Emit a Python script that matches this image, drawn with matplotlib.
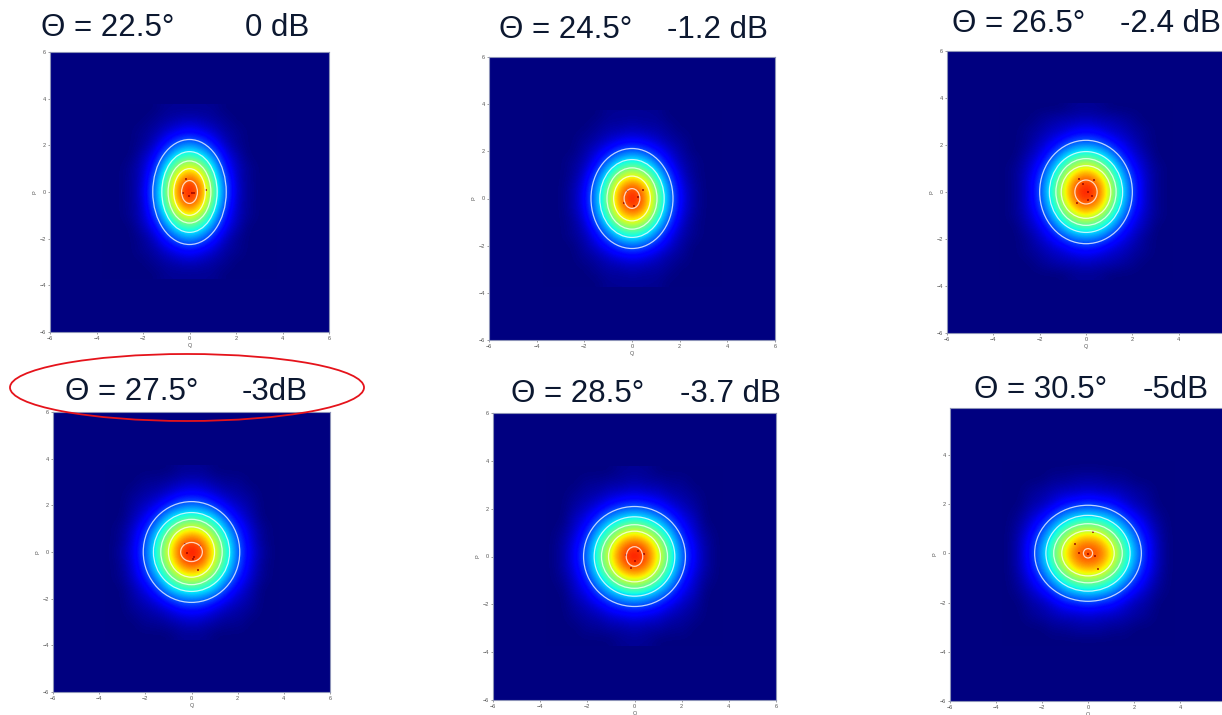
import matplotlib
matplotlib.use("Agg")
import matplotlib.pyplot as plt
import numpy as np
from matplotlib.colors import PowerNorm
from matplotlib.patches import Ellipse
from matplotlib.transforms import IdentityTransform

W, H = 1222, 715
plt.rcParams['font.family'] = ['Liberation Sans', 'DejaVu Sans']

# Density, 0-100 on the jet scale, cells 0.5 wide.
# Rows run P = 3.5 ... -3.5, columns Q = -3.5 ... 3.5
density_a = [
 [0,0,0,0,0,1,1,1,1,1,0,0,0,0,0],
 [0,0,0,0,1,2,3,4,3,2,1,0,0,0,0],
 [0,0,0,1,2,5,8,10,8,5,2,1,0,0,0],
 [0,0,0,1,4,11,19,23,19,11,4,1,0,0,0],
 [0,0,0,3,8,21,35,41,35,22,8,3,0,0,0],
 [0,0,1,4,12,32,54,67,55,33,12,4,1,0,0],
 [0,0,1,4,17,41,74,89,75,41,18,4,1,0,0],
 [0,0,1,5,19,45,81,97,82,46,19,5,1,0,0],
 [0,0,1,4,18,42,74,90,74,41,17,4,1,0,0],
 [0,0,1,4,13,32,55,68,54,32,12,4,1,0,0],
 [0,0,0,3,8,21,35,42,36,21,8,3,0,0,0],
 [0,0,0,1,4,11,19,24,19,11,4,1,0,0,0],
 [0,0,0,1,2,5,8,10,8,5,2,1,0,0,0],
 [0,0,0,0,1,2,3,4,3,2,1,0,0,0,0],
 [0,0,0,0,0,1,1,1,1,1,0,0,0,0,0],
]
density_b = [
 [0,0,0,0,0,1,1,1,1,1,0,0,0,0,0],
 [0,0,0,0,1,2,2,3,2,2,1,0,0,0,0],
 [0,0,0,1,2,4,6,7,6,4,2,1,0,0,0],
 [0,0,0,2,5,10,16,19,16,10,5,2,0,0,0],
 [0,0,1,3,9,21,33,38,33,21,9,3,1,0,0],
 [0,0,1,5,16,34,54,63,54,34,16,5,1,0,0],
 [0,0,2,7,22,46,76,88,76,46,22,7,2,0,0],
 [0,0,2,8,24,50,83,97,83,50,24,8,2,0,0],
 [0,0,2,7,22,46,76,88,77,46,22,7,2,0,0],
 [0,0,1,5,16,34,55,64,54,34,16,5,1,0,0],
 [0,0,1,3,9,21,33,38,33,21,9,3,1,0,0],
 [0,0,0,2,5,10,16,19,16,10,5,2,0,0,0],
 [0,0,0,1,2,4,6,7,6,4,2,1,0,0,0],
 [0,0,0,0,1,2,2,3,2,2,1,0,0,0,0],
 [0,0,0,0,0,1,1,1,1,1,0,0,0,0,0],
]
density_c = [
 [0,0,0,0,0,0,1,1,1,0,0,0,0,0,0],
 [0,0,0,1,2,3,3,4,3,3,2,1,0,0,0],
 [0,0,1,2,4,5,8,9,8,5,4,2,1,0,0],
 [0,0,1,4,7,13,19,21,19,13,7,4,1,0,0],
 [0,0,3,6,14,27,37,41,37,27,14,6,3,0,0],
 [0,1,4,10,24,41,58,66,58,41,24,10,4,1,0],
 [0,1,5,14,31,54,79,88,79,54,31,14,5,1,0],
 [0,1,5,15,35,60,87,97,87,60,35,15,5,1,0],
 [0,1,5,14,31,54,79,88,80,54,31,14,5,1,0],
 [0,1,4,10,24,41,58,67,58,41,24,10,4,1,0],
 [0,0,3,6,14,27,37,41,37,27,14,6,3,0,0],
 [0,0,1,4,7,13,19,21,19,13,7,4,1,0,0],
 [0,0,1,2,4,5,8,9,8,5,4,2,1,0,0],
 [0,0,0,1,2,3,3,4,3,3,2,1,0,0,0],
 [0,0,0,0,0,0,1,1,1,0,0,0,0,0,0],
]
density_d = [
 [0,0,0,0,0,0,1,1,1,0,0,0,0,0,0],
 [0,0,0,1,1,2,3,4,3,2,1,1,0,0,0],
 [0,0,1,2,3,5,8,9,8,5,3,2,1,0,0],
 [0,0,2,4,7,13,19,21,19,13,7,4,2,0,0],
 [0,0,3,7,15,29,37,40,37,29,15,7,3,0,0],
 [0,1,5,12,26,42,58,65,58,42,26,12,5,1,0],
 [0,1,6,16,34,56,80,88,80,56,34,16,6,1,0],
 [0,2,7,18,37,62,88,97,88,62,37,18,7,2,0],
 [0,1,6,16,34,56,80,88,81,56,34,16,6,1,0],
 [0,1,5,12,26,42,58,66,58,42,26,12,5,1,0],
 [0,0,3,7,15,29,37,40,37,29,15,7,3,0,0],
 [0,0,2,4,7,13,19,21,19,13,7,4,2,0,0],
 [0,0,1,2,3,5,8,9,8,5,3,2,1,0,0],
 [0,0,0,1,1,2,3,4,3,2,1,1,0,0,0],
 [0,0,0,0,0,0,1,1,1,0,0,0,0,0,0],
]
density_e = [
 [0,0,0,0,0,0,1,1,1,0,0,0,0,0,0],
 [0,0,0,1,1,2,2,3,2,2,1,1,0,0,0],
 [0,0,1,2,3,5,6,7,6,5,3,2,1,0,0],
 [0,0,2,4,7,12,16,18,16,12,7,4,2,0,0],
 [0,0,4,7,16,26,33,37,33,26,16,7,4,0,0],
 [0,1,5,12,27,42,56,63,56,42,27,12,5,1,0],
 [0,2,7,17,37,57,80,87,80,57,37,17,7,2,0],
 [0,2,8,20,40,65,89,97,89,65,40,20,8,2,0],
 [0,2,7,17,37,57,80,87,81,57,37,17,7,2,0],
 [0,1,5,12,27,42,56,63,56,42,27,12,5,1,0],
 [0,0,4,7,16,26,33,37,33,26,16,7,4,0,0],
 [0,0,2,4,7,12,16,18,16,12,7,4,2,0,0],
 [0,0,1,2,3,5,6,7,6,5,3,2,1,0,0],
 [0,0,0,1,1,2,2,3,2,2,1,1,0,0,0],
 [0,0,0,0,0,0,1,1,1,0,0,0,0,0,0],
]
density_f = [
 [0,0,0,0,0,0,0,0,0,0,0,0,0,0,0],
 [0,0,0,0,1,1,2,2,2,1,1,0,0,0,0],
 [0,0,1,2,3,4,4,5,4,4,3,2,1,0,0],
 [0,0,2,3,6,10,12,14,12,10,6,3,2,0,0],
 [0,1,4,8,15,24,29,31,29,24,15,8,4,1,0],
 [0,2,7,15,28,41,52,55,52,41,28,15,7,2,0],
 [0,3,10,22,39,58,75,80,75,58,39,22,10,3,0],
 [0,3,11,26,44,68,86,90,86,68,44,26,11,3,0],
 [0,3,10,22,39,58,75,80,76,58,39,22,10,3,0],
 [0,2,7,15,28,41,52,56,52,41,28,15,7,2,0],
 [0,1,4,8,15,24,29,31,29,24,15,8,4,1,0],
 [0,0,2,3,6,10,12,14,12,10,6,3,2,0,0],
 [0,0,1,2,3,4,4,5,4,4,3,2,1,0,0],
 [0,0,0,0,1,1,2,2,2,1,1,0,0,0,0],
 [0,0,0,0,0,0,0,0,0,0,0,0,0,0,0],
]

# Contour semi-axes, outermost first
semi_q_a = [1.58, 1.19, 0.92, 0.68, 0.34]; semi_p_a = [2.25, 1.73, 1.33, 1.00, 0.49]
semi_q_b = [1.72, 1.35, 1.05, 0.77, 0.33]; semi_p_b = [2.12, 1.65, 1.30, 0.95, 0.42]
semi_q_c = [2.00, 1.58, 1.30, 1.07, 0.48]; semi_p_c = [2.20, 1.72, 1.42, 1.12, 0.51]
semi_q_d = [2.09, 1.65, 1.33, 1.00, 0.47]; semi_p_d = [2.16, 1.69, 1.40, 1.08, 0.41]
semi_q_e = [2.16, 1.71, 1.40, 1.10, 0.35]; semi_p_e = [2.09, 1.66, 1.33, 1.06, 0.41]
semi_q_f = [2.32, 1.83, 1.49, 1.14, 0.20]; semi_p_f = [1.95, 1.54, 1.20, 0.92, 0.19]

# Darkest single cells seen near each centre
hot_q_a = [-0.17, -0.29, 0.09, 0.21, -0.03, 0.69]; hot_p_a = [0.57, -0.04, -0.04, -0.04, -0.17, 0.07]
hot_q_b = [-0.20, 0.25, -0.35, 0.10, 0.45]; hot_p_b = [0.30, 0.05, -0.20, -0.30, 0.35]
hot_q_c = [0.10, -0.15, 0.25, 0.10, -0.40, 0.35, -0.30]; hot_p_c = [0.00, 0.35, -0.15, -0.35, -0.45, 0.50, 0.55]
hot_q_d = [0.10, -0.20, 0.30, 0.05, -0.30, 0.35]; hot_p_d = [-0.20, -0.05, -0.77, -0.30, 0.35, 0.25]
hot_q_e = [0.00, -0.15, 0.40, -0.37, 0.13]; hot_p_e = [-0.17, -0.48, 0.10, 0.08, 0.22]
hot_q_f = [0.00, -0.55, 0.30, 0.45, -0.40, 0.20]; hot_p_f = [-0.04, 0.37, -0.10, -0.65, 0.00, 0.85]

angle_labels = ["Θ = 22.5°", "Θ = 24.5°", "Θ = 26.5°", "Θ = 27.5°", "Θ = 28.5°", "Θ = 30.5°"]
db_labels = ["0 dB", "-1.2 dB", "-2.4 dB", "-3dB", "-3.7 dB", "-5dB"]
tick_values = [-6, -4, -2, 0, 2, 4, 6]
grid_q = [-3.5, 3.5]

# left, right, top, bottom of each axes in pixels; angle x, dB x, baseline y
boxes = [(50, 329, 52, 332), (489, 775, 57, 340), (947, 1225, 51, 333),
         (53, 330, 412, 692), (493, 776, 413, 700), (950, 1226, 408, 701)]
text_pos = [(41, 245, 36), (499, 667, 38), (952, 1120, 32),
            (65, 242, 400), (511, 680, 402), (974, 1143, 398)]
ylims = [(-6, 6), (-6, 6), (-6, 6), (-6, 6), (-6, 6), (-6, 5.9)]
x_tick_sets = [tick_values, tick_values, tick_values[:-1], tick_values, tick_values, tick_values[:-1]]

densities = [density_a, density_b, density_c, density_d, density_e, density_f]
semi_q = [semi_q_a, semi_q_b, semi_q_c, semi_q_d, semi_q_e, semi_q_f]
semi_p = [semi_p_a, semi_p_b, semi_p_c, semi_p_d, semi_p_e, semi_p_f]
hot_q = [hot_q_a, hot_q_b, hot_q_c, hot_q_d, hot_q_e, hot_q_f]
hot_p = [hot_p_a, hot_p_b, hot_p_c, hot_p_d, hot_p_e, hot_p_f]

fig = plt.figure(figsize=(W / 100, H / 100), dpi=100, facecolor='white')
jet = plt.get_cmap('jet')
TXT = '#0c1830'
EDGE = '#8d93b8'
TICK = '#555555'

for i in range(6):
    l, r, t, b = boxes[i]
    ax = fig.add_axes([l / W, 1 - b / H, (r - l) / W, (b - t) / H])
    ax.set_facecolor(jet(0.0))
    half = 0.5 / 2
    ax.imshow(np.array(densities[i], dtype=float), cmap=jet, norm=PowerNorm(0.85, vmin=0, vmax=108),
              extent=(grid_q[0] - half, grid_q[1] + half, grid_q[0] - half, grid_q[1] + half),
              origin='upper', interpolation='bicubic', aspect='auto', zorder=1)
    ax.scatter(hot_q[i], hot_p[i], s=4, marker='s', color='#900000', linewidths=0, alpha=0.7, zorder=2)
    for a, c in zip(semi_q[i], semi_p[i]):
        ax.add_patch(Ellipse((0, 0), 2 * a, 2 * c, fill=False, ec='white', lw=0.9, alpha=0.75, zorder=3))
    ax.set_xlim(-6, 6)
    ax.set_ylim(*ylims[i])
    ax.set_xticks(x_tick_sets[i])
    ax.set_yticks([v for v in tick_values if ylims[i][0] <= v <= ylims[i][1]])
    ax.tick_params(labelsize=4, length=1.5, width=0.4, pad=1.5, colors=TICK)
    ax.set_xlabel('Q', fontsize=4, labelpad=1, color=TICK)
    ax.set_ylabel('P', fontsize=4, labelpad=1, color=TICK)
    for s in ax.spines.values():
        s.set_color(EDGE)
        s.set_linewidth(0.8)

for i in range(6):
    xa, xd, yb = text_pos[i]
    fig.text(xa / W, 1 - yb / H, angle_labels[i], fontsize=22.5, color=TXT, ha='left', va='baseline')
    fig.text(xd / W, 1 - yb / H, db_labels[i], fontsize=22.5, color=TXT, ha='left', va='baseline')

fig.add_artist(Ellipse((187, H - 387.5), 354, 67, fill=False, ec='#e5131b', lw=1.3,
                       transform=IdentityTransform()))

fig.savefig('out.png', dpi=100, facecolor='white')
